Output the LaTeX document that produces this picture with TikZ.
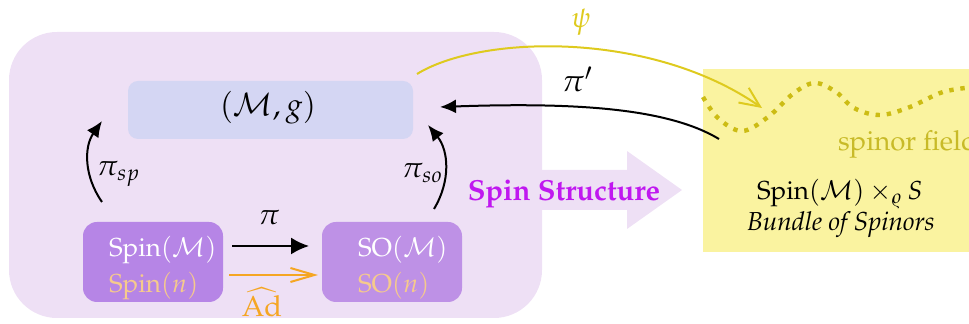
\documentclass[tikz,border=0pt]{standalone}
\usepackage[T1]{fontenc}
\usepackage{mathpazo}
\usetikzlibrary{arrows.meta}
\definecolor{bigbg}{RGB}{238,224,245}
\definecolor{mgbg}{RGB}{212,214,243}
\definecolor{spinbg}{RGB}{182,133,230}
\definecolor{sobg}{RGB}{190,145,230}
\definecolor{lorange}{RGB}{246,202,140}
\definecolor{orng}{RGB}{245,166,35}
\definecolor{sspurple}{RGB}{192,24,240}
\definecolor{ylwbg}{RGB}{250,243,160}
\definecolor{wavecol}{RGB}{204,188,20}
\definecolor{fieldcol}{RGB}{200,186,40}
\definecolor{psicol}{RGB}{222,202,30}
\tikzset{
  boxnode/.style={inner sep=0pt, outer sep=0pt},
  txt/.style={inner sep=0pt, outer sep=0pt, anchor=base west},
  fs/.style={font=\fontsize{#1}{#1}\selectfont},
  blkarrow/.style={line width=1pt, -{Latex[length=9pt,width=8.5pt]}},
  curvarrow/.style={line width=1pt, -{Latex[length=8pt,width=7pt]}},
  barbarrow/.style={line width=1pt, -{Straight Barb[length=12pt,width=7pt]}},
  wavy/.style={wavecol, line width=2.2pt, dash pattern=on 2.2pt off 3.4pt},
}
\begin{document}
\begin{tikzpicture}[x=0.5pt,y=-0.5pt]
\useasboundingbox (0,0) rectangle (969,324);
\clip (0,0) rectangle (969,324);
% big frame
\node[boxnode, fill=bigbg, rounded corners=24pt, minimum width=266.5pt, minimum height=143pt] (frame) at (275.5,175) {};
% spin structure arrow
\fill[bigbg] (520,170) -- (627,170) -- (627,151) -- (682,190) -- (627,229) -- (627,210) -- (520,210) -- cycle;
\node[txt, anchor=base, text=sspurple, fs=14.5] (ss) at (564,201) {\bfseries Spin Structure};
% (M,g)
\node[boxnode, fill=mgbg, rounded corners=5pt, minimum width=142.5pt, minimum height=29pt] (mg) at (270.5,110) {};
\node[txt, anchor=base, fs=15.5] (mgt) at (268,116) {$(\mathcal{M},g)$};
% Spin and SO boxes
\node[boxnode, fill=spinbg, rounded corners=7pt, minimum width=70pt, minimum height=40pt] (spinbox) at (153,262) {};
\node[boxnode, fill=sobg, rounded corners=7pt, minimum width=70pt, minimum height=40pt] (sobox) at (392,262) {};
\node[txt, text=white, fs=13] (spinM) at (109,257) {Spin$(\mathcal{M})$};
\node[txt, text=lorange, fs=13] (spinn) at (109,293) {Spin$(n)$};
\node[txt, text=white, fs=13] (soM) at (358,257) {SO$(\mathcal{M})$};
\node[txt, text=lorange, fs=13] (son) at (358,293) {SO$(n)$};
% pi and Ad arrows
\draw[blkarrow] ([xshift=4.5pt,yshift=8pt]spinbox.east) -- ([xshift=-6.5pt,yshift=8pt]sobox.west);
\node[txt, anchor=base, fs=14.5] (pilab) at (269,225) {$\pi$};
\draw[barbarrow, orng] ([xshift=3pt,yshift=-6.5pt]spinbox.east) -- ([xshift=-2pt,yshift=-6.5pt]sobox.west);
\node[txt, anchor=base, text=orng, fs=14.5] (adlab) at (262,317) {$\widehat{\mathrm{Ad}}$};
% vertical projections
\coordinate (spS) at (102,202);
\coordinate (spE) at (102,121);
\draw[curvarrow] (spS) to[bend left=35] (spE);
\node[txt, fs=14.5] (pisp) at (97,176) {$\pi_{sp}$};
\coordinate (soS) at (434,209);
\coordinate (soE) at (428,125);
\draw[curvarrow] (soS) to[bend right=35] (soE);
\node[txt, fs=14.5] (piso) at (402,178) {$\pi_{so}$};
% bundle of spinors
\node[boxnode, fill=ylwbg, minimum width=140pt, minimum height=91.5pt, anchor=north west] (bundle) at (703,69) {};
\draw[wavy] plot[smooth, tension=0.6] coordinates {(703,97) (718,118) (742,131) (768,117) (794,93) (815,83) (836,92) (854,108) (880,115) (910,107) (943,92) (975,87)};
\node[txt, text=fieldcol, fs=13.8] (field) at (838,151) {spinor field};
\node[txt, fs=13] (assoc) at (757,200) {Spin$(\mathcal{M})\times_{\varrho} S$};
\node[txt, fs=13] (bos) at (747,231) {\itshape Bundle of Spinors};
% psi and pi'
\coordinate (psiS) at (417,74);
\coordinate (psiE) at (762,108);
\draw[psicol, line width=1pt, -{Straight Barb[length=10pt,width=9pt]}] (psiS) .. controls (480,35) and (650,30) .. (psiE);
\node[txt, anchor=base, text=psicol, fs=14.5] (psilab) at (581,28) {$\psi$};
\coordinate (ppS) at (719,139);
\coordinate (ppE) at (440,107);
\draw[curvarrow] (ppS) .. controls (669,109) and (580,102) .. (ppE);
\node[txt, fs=15.5] (pplab) at (562,92) {$\pi'$};
\end{tikzpicture}
\end{document}
